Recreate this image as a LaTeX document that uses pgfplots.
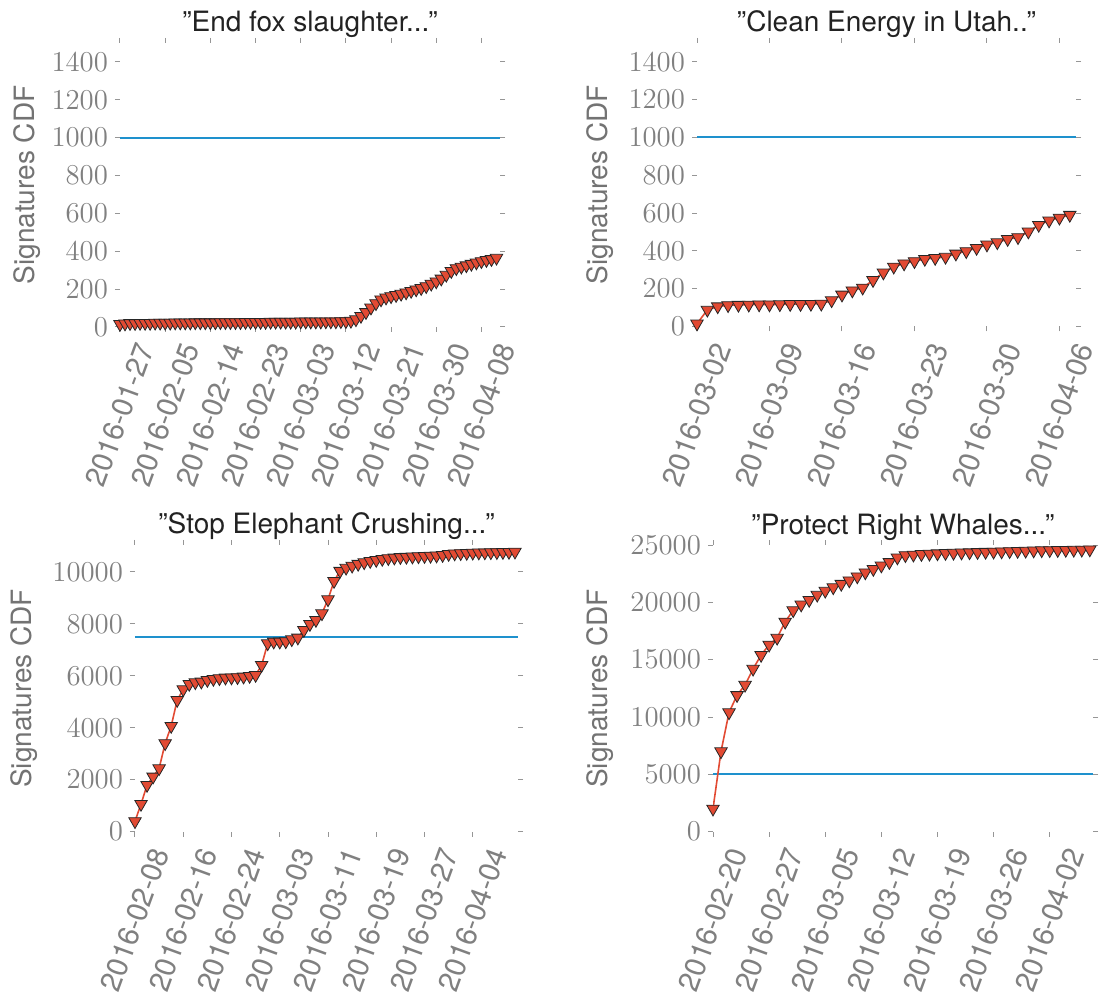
\documentclass[border=0pt]{standalone}
\usepackage{pgfplots}
\pgfplotsset{compat=1.18}
\usepackage{fontspec}
\setmainfont{TeX Gyre Heros}
\definecolor{redc}{RGB}{226,74,51}
\definecolor{bluec}{RGB}{30,145,205}
\definecolor{tickc}{RGB}{128,128,128}
\definecolor{tickm}{RGB}{150,150,150}
\definecolor{titlec}{RGB}{34,34,34}
\pgfplotsset{
 petstyle/.style={
  scale only axis,
  axis line style={draw=none},
  tick align=outside,
  major tick length=2.5pt,
  tick style={color=tickm, line width=0.5pt},
  yticklabel style={font=\fontsize{14}{14}\selectfont, text=tickc, /pgf/number format/1000 sep={}},
  xticklabel style={font=\fontsize{14.6}{14.6}\selectfont, text=tickc, xshift=12.8pt, yshift=-6.3pt, rotate=70, anchor=east, inner sep=0pt},
  ylabel={Signatures CDF},
  ylabel style={font=\fontsize{14}{14}\selectfont, text=tickc!90!black, anchor=center},
  title style={font=\fontsize{14}{14}\selectfont, text=titlec, at={(0.5,1)}, anchor=base, yshift=-0.5pt},
  scaled y ticks=false,
  ymin=0, xmin=0,
 },
 redline/.style={draw=redc, line width=0.8pt, mark=triangle*, mark size=3.6pt, mark options={rotate=180, fill=redc, draw=black!85, line width=0.4pt}},
 blueline/.style={draw=bluec, line width=1pt, mark=none},
}
\begin{document}
\begin{tikzpicture}
\useasboundingbox (0,0) rectangle (549.5pt,496pt);
% Top-left
\begin{axis}[petstyle, at={(60pt,332.5pt)}, anchor=south west, width=190pt, height=142pt,
  xmax=75.7, ymax=1500,
  title={”End fox slaughter...”},
  ylabel style={at={(axis description cs:-0.245,0.5)}},
  xtick={0,9,18,27,36,45,54,63,72},
  xticklabels={2016-01-27,2016-02-05,2016-02-14,2016-02-23,2016-03-03,2016-03-12,2016-03-21,2016-03-30,2016-04-08},
  ytick={0,200,400,600,800,1000,1200,1400}]
\addplot[blueline] coordinates {(0,1000) (75.7,1000)};
\addplot[redline] coordinates {
(0,15)(1,18)(2,20)(3,20)(4,21)(5,21)(6,21)(7,22)(8,22)(9,22)(10,22)(11,23)(12,23)(13,23)(14,23)(15,24)(16,24)(17,24)(18,24)(19,24)(20,25)(21,25)(22,25)(23,25)(24,25)(25,26)(26,26)(27,26)(28,26)(29,26)(30,27)(31,27)(32,27)(33,27)(34,27)(35,27)(36,28)(37,28)(38,28)(39,28)(40,28)(41,29)(42,29)(43,29)(44,30)(45,30)(46,32)(47,40)(48,58)(49,78)(50,102)(51,125)(52,145)(53,155)(54,162)(55,168)(56,175)(57,182)(58,190)(59,198)(60,205)(61,215)(62,228)(63,240)(64,255)(65,275)(66,295)(67,310)(68,318)(69,325)(70,333)(71,340)(72,347)(73,353)(74,358)(75,365)};
\end{axis}
% Top-right
\begin{axis}[petstyle, at={(348.5pt,332.75pt)}, anchor=south west, width=189.5pt, height=141.75pt,
  xmax=36.6, ymax=1500,
  title={”Clean Energy in Utah..”},
  ylabel style={at={(axis description cs:-0.256,0.5)}},
  xtick={0,7,14,21,28,35},
  xticklabels={2016-03-02,2016-03-09,2016-03-16,2016-03-23,2016-03-30,2016-04-06},
  ytick={0,200,400,600,800,1000,1200,1400}]
\addplot[blueline] coordinates {(0,1000) (36.6,1000)};
\addplot[redline] coordinates {
(0,15)(1,88)(2,106)(3,112)(4,114)(5,115)(6,116)(7,116)(8,117)(9,118)(10,118)(11,119)(12,120)(13,138)(14,168)(15,190)(16,205)(17,245)(18,285)(19,316)(20,333)(21,345)(22,357)(23,362)(24,368)(25,385)(26,398)(27,415)(28,433)(29,445)(30,462)(31,472)(32,502)(33,537)(34,560)(35,575)(36,590)};
\end{axis}
% Bottom-left
\begin{axis}[petstyle, at={(67.5pt,80.15pt)}, anchor=south west, width=191.5pt, height=143.35pt,
  xmax=63.5, ymax=11030,
  title={”Stop Elephant Crushing...”},
  ylabel style={at={(axis description cs:-0.29,0.5)}},
  xtick={0,8,16,24,32,40,48,56},
  xticklabels={2016-02-08,2016-02-16,2016-02-24,2016-03-03,2016-03-11,2016-03-19,2016-03-27,2016-04-04},
  ytick={0,2000,4000,6000,8000,10000}]
\addplot[blueline] coordinates {(0,7500) (63.5,7500)};
\addplot[redline] coordinates {
(0,400)(1,1064)(2,1795)(3,2115)(4,2436)(5,3400)(6,4064)(7,5064)(8,5474)(9,5680)(10,5744)(11,5770)(12,5833)(13,5872)(14,5900)(15,5923)(16,5930)(17,5940)(18,5962)(19,5987)(20,6026)(21,6410)(22,7244)(23,7308)(24,7308)(25,7320)(26,7400)(27,7462)(28,7756)(29,7987)(30,8141)(31,8397)(32,8936)(33,9641)(34,10030)(35,10150)(36,10230)(37,10300)(38,10360)(39,10410)(40,10450)(41,10490)(42,10520)(43,10540)(44,10560)(45,10570)(46,10580)(47,10590)(48,10600)(49,10610)(50,10620)(51,10640)(52,10680)(53,10700)(54,10710)(55,10720)(56,10730)(57,10735)(58,10740)(59,10745)(60,10750)(61,10755)(62,10760)(63,10770)};
\end{axis}
% Bottom-right
\begin{axis}[petstyle, at={(356.5pt,80.15pt)}, anchor=south west, width=190pt, height=143.35pt,
  xmax=47.4, ymax=25000,
  title={”Protect Right Whales...”},
  ylabel style={at={(axis description cs:-0.297,0.5)}},
  xtick={0,7,14,21,28,35,42},
  xticklabels={2016-02-20,2016-02-27,2016-03-05,2016-03-12,2016-03-19,2016-03-26,2016-04-02},
  ytick={0,5000,10000,15000,20000,25000}]
\addplot[blueline] coordinates {(0,5000) (47.4,5000)};
\addplot[redline] coordinates {
(0,2000)(1,7000)(2,10400)(3,11900)(4,12800)(5,14200)(6,15400)(7,16300)(8,16900)(9,18300)(10,19300)(11,19800)(12,20200)(13,20650)(14,21000)(15,21300)(16,21600)(17,21900)(18,22250)(19,22600)(20,22900)(21,23200)(22,23500)(23,23900)(24,24100)(25,24150)(26,24200)(27,24230)(28,24260)(29,24290)(30,24310)(31,24330)(32,24350)(33,24370)(34,24390)(35,24410)(36,24430)(37,24450)(38,24470)(39,24490)(40,24510)(41,24530)(42,24540)(43,24550)(44,24560)(45,24570)(46,24580)(47,24600)};
\end{axis}
\end{tikzpicture}
\end{document}
